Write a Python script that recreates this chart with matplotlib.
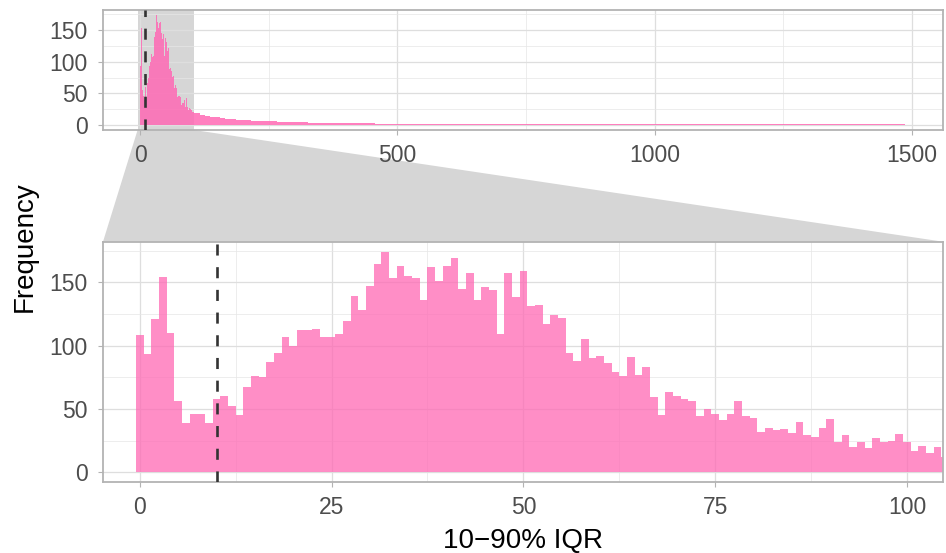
import numpy as np
import matplotlib
matplotlib.use('Agg')
import matplotlib.pyplot as plt
from matplotlib.patches import Polygon

plt.rcParams['font.family'] = ['Liberation Sans', 'DejaVu Sans']

# counts of the 1-wide bins centred on 0, 1, ..., 105
zoom_counts = [108, 93, 121, 154, 110, 56, 39, 46, 46, 39,
               58, 60, 52, 45, 67, 76, 75, 87, 94, 107,
               100, 112, 112, 113, 107, 107, 109, 119, 139, 128,
               147, 164, 174, 153, 163, 155, 153, 136, 162, 151,
               163, 169, 145, 157, 136, 146, 144, 109, 157, 138,
               159, 131, 132, 117, 124, 122, 94, 88, 105, 90,
               92, 86, 79, 76, 91, 77, 83, 59, 45, 63,
               60, 58, 56, 44, 50, 46, 41, 46, 56, 44,
               43, 32, 35, 33, 34, 31, 40, 29, 28, 35,
               42, 24, 29, 20, 24, 19, 27, 24, 25, 30,
               24, 17, 21, 15, 20, 12]
zoom_start = -0.5

# long tail, mean count per unit bin over 10-wide blocks from 105.5 on
tail_block = 10
tail_counts = [19, 16, 14, 13, 12, 11, 10, 9, 8.5, 8,
               7.5, 7, 6.5, 6, 5.5, 5.5, 5, 5, 4.5, 4.5,
               4, 4, 3.8, 3.6, 3.4, 3.3, 3.2, 3, 2.9, 2.8,
               2.6, 2.5, 2.4, 2.4, 2.3, 2.2, 2.2, 2.1, 2.1, 2,
               2, 1.9, 1.9, 1.9, 1.8, 1.8, 1.8, 1.7, 1.7, 1.7,
               1.7, 1.6, 1.6, 1.6, 1.6, 1.6, 1.6, 1.5, 1.5, 1.5,
               1.5, 1.5, 1.5, 1.5, 1.5, 1.5, 1.5, 1.5, 1.5, 1.5,
               1.5, 1.5, 1.5, 1.5, 1.5, 1.5, 1.5, 1.5, 1.5, 1.5,
               1.5, 1.5, 1.5, 1.5, 1.5, 1.5, 1.5, 1.5, 1.5, 1.5,
               1.4, 1.4, 1.4, 1.4, 1.4, 1.4, 1.4, 1.4, 1.4, 1.4,
               1.4, 1.4, 1.4, 1.4, 1.4, 1.4, 1.4, 1.4, 1.4, 1.4,
               1.4, 1.4, 1.4, 1.4, 1.4, 1.4, 1.4, 1.4, 1.4, 1.4,
               1.3, 1.3, 1.3, 1.3, 1.3, 1.3, 1.3, 1.3, 1.3, 1.3,
               1.3, 1.3, 1.3, 1.3, 1.3, 1.3, 1.3, 1.3]

cutoff = 10
top_xticks = [0, 500, 1000, 1500]
bot_xticks = [0, 25, 50, 75, 100]
yticks = [0, 50, 100, 150]

PINK = '#FF69B4'
GRID = '#DEDEDE'
EDGE = '#B3B3B3'
TXT = '#4D4D4D'
ZOOMGREY = '#D6D6D6'

W, H = 946, 553
fig = plt.figure(figsize=(W / 100, H / 100), dpi=100)


def px_axes(l, t, r, b):
    return fig.add_axes([l / W, 1 - b / H, (r - l) / W, (b - t) / H])


ax_top = px_axes(103, 10, 943, 130)
ax_bot = px_axes(103, 241.7, 943, 482.3)

top_xlim = (-72, 1560)
bot_xlim = (-4.8, 104.7)
ylim = (-8, 182)


def style(ax, xticks, minor_x):
    ax.set_facecolor('white')
    ax.set_axisbelow(True)
    ax.set_xticks(xticks)
    ax.set_xticks(minor_x, minor=True)
    ax.set_yticks(yticks)
    ax.set_yticks([25, 75, 125, 175], minor=True)
    ax.grid(True, which='major', color=GRID, lw=0.9, zorder=0.5)
    ax.grid(True, which='minor', color='#E6E6E6', lw=0.5, zorder=0.5)
    for s in ax.spines.values():
        s.set_color(EDGE)
        s.set_linewidth(1.3)
    ax.tick_params(which='major', color=EDGE, width=0.8, length=3.6,
                   labelsize=16.5, labelcolor=TXT)
    ax.tick_params(axis='y', pad=7.5)
    ax.tick_params(axis='x', pad=6.5)
    ax.tick_params(which='minor', length=0)


# top: whole range
zoom_edges = zoom_start + np.arange(len(zoom_counts) + 1)
tail_edges = zoom_edges[-1] + tail_block * np.arange(1, len(tail_counts) + 1)
all_edges = np.concatenate([zoom_edges, tail_edges])
all_counts = np.array(zoom_counts + tail_counts, dtype=float)

ax_top.axvspan(bot_xlim[0], bot_xlim[1], color=ZOOMGREY, lw=0, zorder=0.2)
ax_top.stairs(all_counts, all_edges, fill=True, color=PINK, alpha=0.85, lw=0, zorder=2)
ax_top.axvline(cutoff, color='#333333', lw=1.9, dashes=(4.2, 4.4), zorder=3)
ax_top.set_xlim(top_xlim)
ax_top.set_ylim(ylim)
style(ax_top, top_xticks, [250, 750, 1250])

# bottom: zoomed range
centres = np.arange(len(zoom_counts))
ax_bot.bar(centres, zoom_counts, width=1.0, color=PINK, alpha=0.75, lw=0, zorder=2)
ax_bot.axvline(cutoff, color='#333333', lw=1.9, dashes=(4.2, 4.4), zorder=3)
ax_bot.set_xlim(bot_xlim)
ax_bot.set_ylim(ylim)
style(ax_bot, bot_xticks, [12.5, 37.5, 62.5, 87.5])

# zoom trapezoid between the panels
inv = fig.transFigure.inverted()
p1 = inv.transform(ax_top.transData.transform((bot_xlim[0], ylim[0])))
p2 = inv.transform(ax_top.transData.transform((bot_xlim[1], ylim[0])))
p3 = inv.transform(ax_bot.transAxes.transform((1, 1)))
p4 = inv.transform(ax_bot.transAxes.transform((0, 1)))
fig.add_artist(Polygon([p1, p2, p3, p4], closed=True, transform=fig.transFigure,
                       facecolor=ZOOMGREY, edgecolor='none', zorder=-1))

fig.text(25 / W, 1 - 247 / H, 'Frequency', rotation=90, ha='center', va='center',
         fontsize=20, color='black')
fig.text(523 / W, 1 - 548.3 / H, '10\u221290% IQR', ha='center', va='baseline',
         fontsize=20, color='black')

fig.savefig('out.png', dpi=100)
